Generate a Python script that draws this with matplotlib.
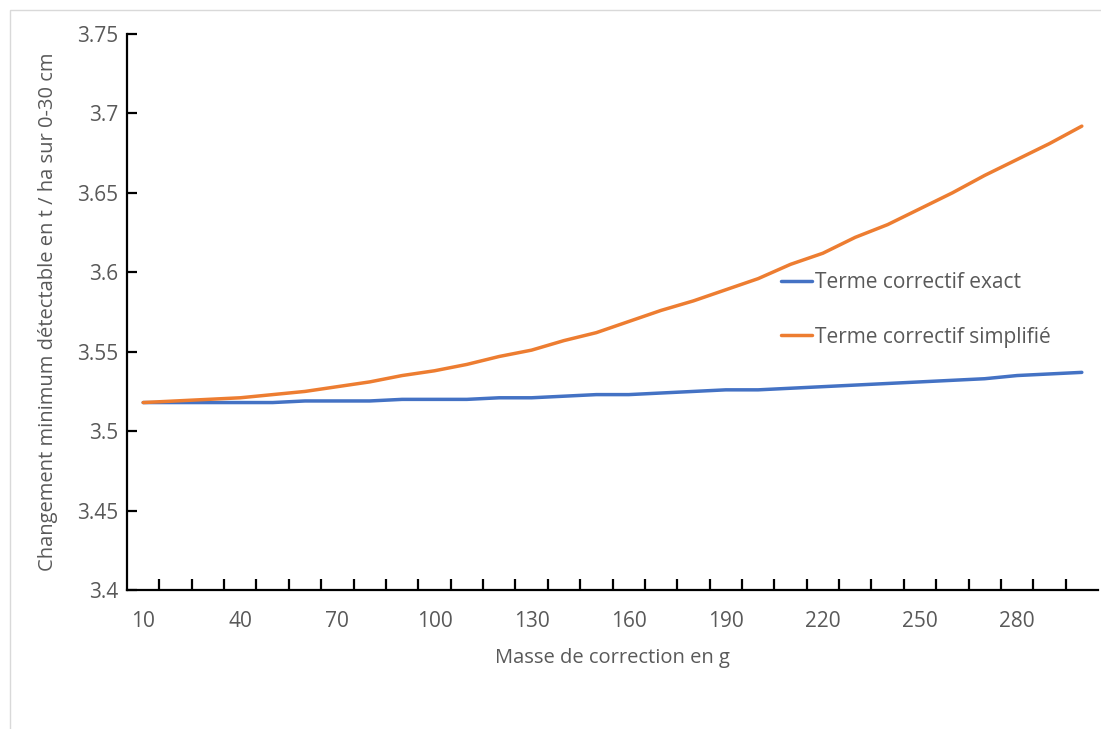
import numpy as np
import matplotlib.pyplot as plt
from matplotlib.patches import Rectangle
from matplotlib.ticker import FixedLocator, FuncFormatter

masse = list(range(10, 310, 10))
exact = [3.518, 3.518, 3.518, 3.518, 3.518, 3.519, 3.519, 3.519, 3.520, 3.520,
         3.520, 3.521, 3.521, 3.522, 3.523, 3.523, 3.524, 3.525, 3.526, 3.526,
         3.527, 3.528, 3.529, 3.530, 3.531, 3.532, 3.533, 3.535, 3.536, 3.537]
simplifie = [3.518, 3.519, 3.520, 3.521, 3.523, 3.525, 3.528, 3.531, 3.535, 3.538,
             3.542, 3.547, 3.551, 3.557, 3.562, 3.569, 3.576, 3.582, 3.589, 3.596,
             3.605, 3.612, 3.622, 3.630, 3.640, 3.650, 3.661, 3.671, 3.681, 3.692]

plt.rcParams['font.family'] = ['Open Sans', 'DejaVu Sans']
grey = '#595959'

fig = plt.figure(figsize=(11.01, 7.29), dpi=100)
fig.patches.append(Rectangle((10 / 1101, -0.05), 1.1, 1 - 10 / 729 + 0.05,
                             transform=fig.transFigure, fill=False,
                             edgecolor='#d9d9d9', linewidth=1))
ax = fig.add_axes([127 / 1101, 1 - 590 / 729, (1098 - 127) / 1101, (590 - 34) / 729])

x = np.arange(len(masse))
ax.plot(x, exact, color='#4472C4', linewidth=2.5, label='Terme correctif exact',
        solid_capstyle='round')
ax.plot(x, simplifie, color='#ED7D31', linewidth=2.5, label='Terme correctif simplifié',
        solid_capstyle='round')

ax.set_xlim(-0.5, len(masse) - 0.5)
ax.set_ylim(3.4, 3.75)

for s in ['top', 'right']:
    ax.spines[s].set_visible(False)
for s in ['left', 'bottom']:
    ax.spines[s].set_linewidth(1.6)
    ax.spines[s].set_color('black')

# category labels every 3rd, ticks between categories
ax.xaxis.set_major_locator(FixedLocator(x[::3]))
ax.set_xticklabels([str(m) for m in masse[::3]])
ax.xaxis.set_minor_locator(FixedLocator(np.arange(0.5, len(masse) - 0.5, 1)))
ax.tick_params(axis='x', which='major', length=0, pad=15, labelsize=15, labelcolor=grey)
ax.tick_params(axis='x', which='minor', direction='in', length=8, width=1.6, color='black')

ax.yaxis.set_major_locator(FixedLocator(np.arange(3.4, 3.7501, 0.05)))
ax.yaxis.set_major_formatter(FuncFormatter(lambda v, p: f'{v:g}'))
ax.tick_params(axis='y', direction='in', length=7, width=1.6, pad=6,
               labelsize=15, labelcolor=grey)

ax.set_xlabel('Masse de correction en g', fontsize=14.5, color=grey, labelpad=12)
ax.set_ylabel('Changement minimum détectable en t / ha sur 0-30 cm', fontsize=14.5,
              color=grey, labelpad=14)

ax.legend(loc='upper left', bbox_to_anchor=(0.654, 0.605), frameon=False, fontsize=15,
          labelcolor=grey, handlelength=1.5, handletextpad=0.15, labelspacing=1.6)

fig.savefig('out.png', dpi=100)
